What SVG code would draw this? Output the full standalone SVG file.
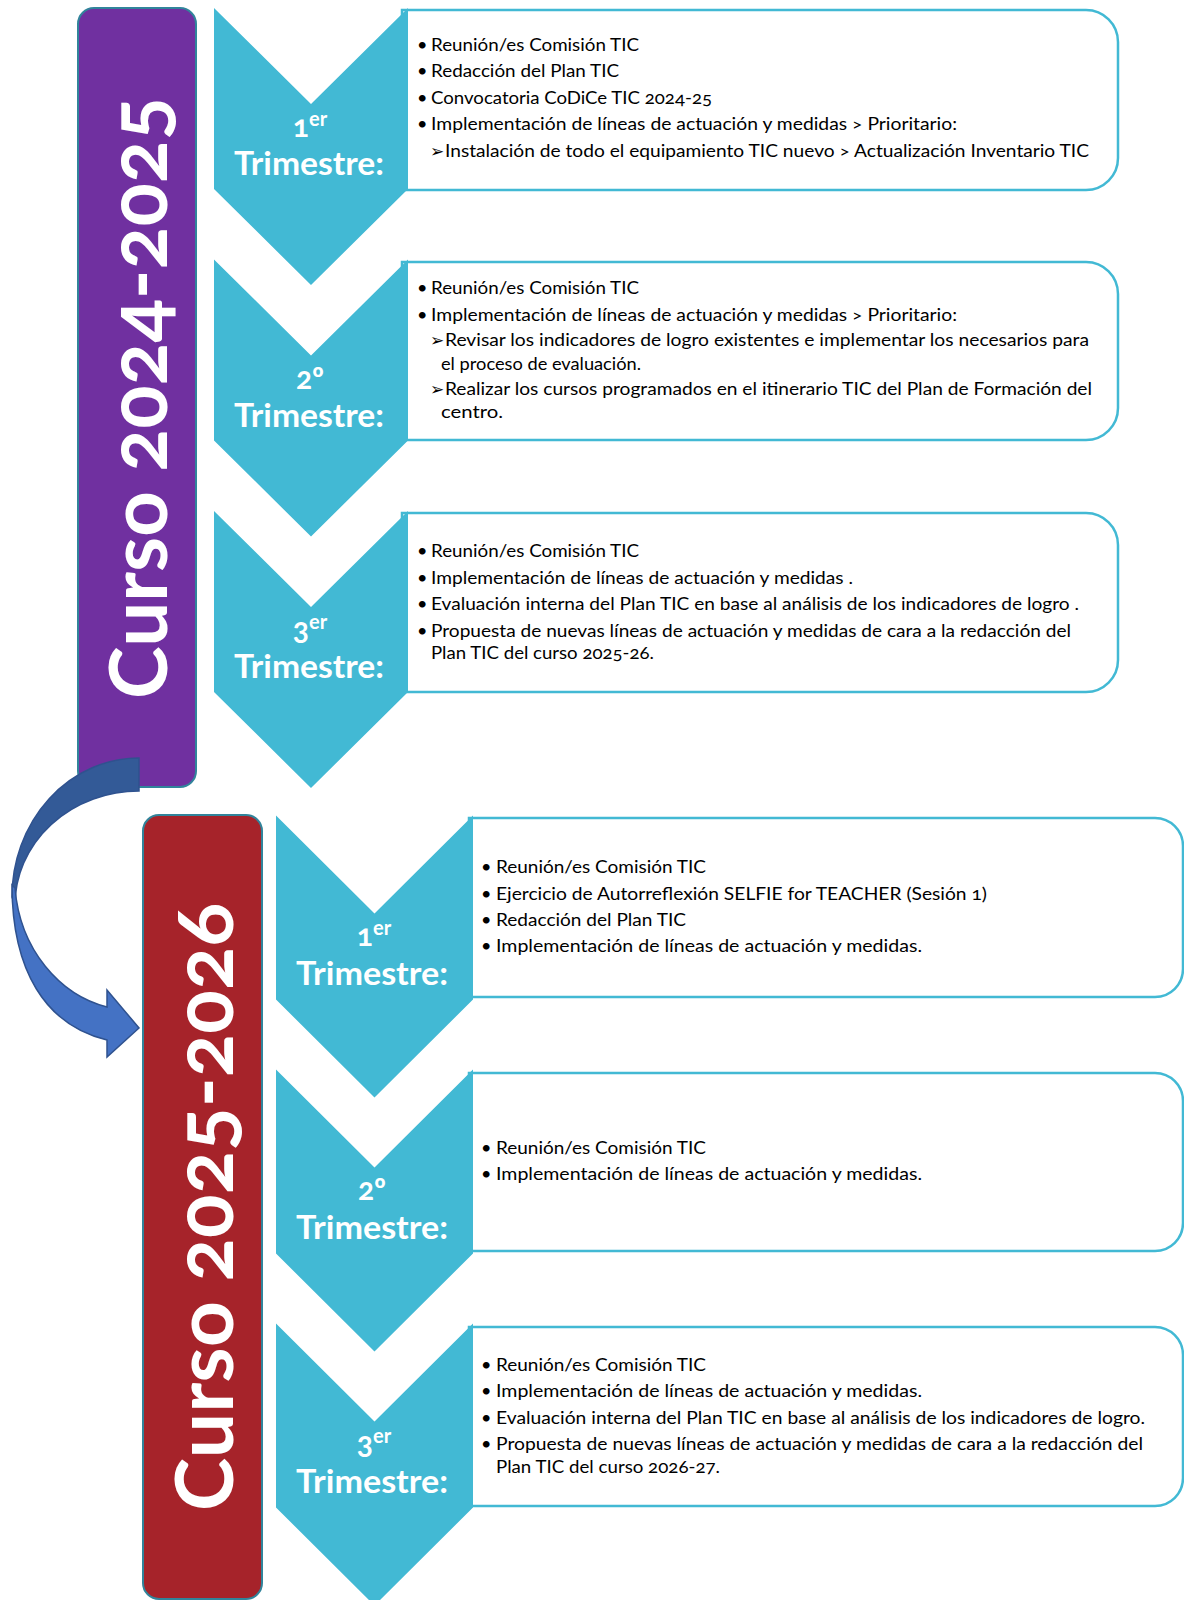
<svg xmlns="http://www.w3.org/2000/svg" width="1184" height="1600" viewBox="0 0 1184 1600">
<style>
.box{fill:#fff;stroke:#42B9D4;stroke-width:2.5}
.chev{fill:#42B9D4}
.t{font-family:Lato,"Liberation Sans",sans-serif;font-size:18px;fill:#000;font-variant-numeric:oldstyle-nums}
.b{font-family:Lato,"Liberation Sans",sans-serif;font-size:18px;fill:#000}
.ar{font-family:"DejaVu Sans",sans-serif;font-size:17px;fill:#000}
.lab{font-family:Lato,"Liberation Sans",sans-serif;font-weight:bold;font-size:33px;fill:#fff;text-anchor:middle;font-variant-numeric:oldstyle-nums}
.num{font-size:30px}
.sup{font-size:20px}
.title{font-family:Lato,"Liberation Sans",sans-serif;font-weight:bold;font-size:80px;fill:#fff;font-variant-numeric:oldstyle-nums}
.year{stroke:#31849B;stroke-width:2}
</style>
<g id="curso-2024-2025">
<rect class="year" x="78" y="8" width="118" height="779" rx="16" fill="#7030A0"/>
<text class="title" transform="translate(166.5,699) rotate(-90)" textLength="602" lengthAdjust="spacingAndGlyphs">Curso 2024-2025</text>
</g>
<g id="curso-2025-2026">
<rect class="year" x="143" y="815" width="119" height="784" rx="16" fill="#A6232A"/>
<text class="title" transform="translate(233,1511) rotate(-90)" textLength="608" lengthAdjust="spacingAndGlyphs">Curso 2025-2026</text>
</g>
<g id="connectors">
<path d="M139,758 A127,139 0 0 0 12,897 L15,905 A124,114 0 0 1 139,791 Z" fill="#335A97" stroke="#2F528F" stroke-width="1.5"/>
<path d="M12,885 C12,970 45,1025 107,1040 L107,1057 L139,1028 L107,990 L107,1007 C60,995 20,950 15,888 Z" fill="#4472C4" stroke="#2F528F" stroke-width="1.5"/>
</g>
<g id="t1-2024">
<path class="box" d="M402,10 H1086 A32,32 0 0 1 1118,42 V158 A32,32 0 0 1 1086,190 H402 Z"/>
<polygon class="chev" points="214,8 311,104 408,8 408,189 311,285 214,189"/>
<text class="lab" x="310" y="137"><tspan class="num">1</tspan><tspan class="sup" dy="-11">er</tspan></text>
<text class="lab" x="309" y="175" textLength="150" lengthAdjust="spacingAndGlyphs">Trimestre:</text>
<text class="b" x="417" y="50.5">•</text><text class="t" x="431" y="50.5" textLength="208" lengthAdjust="spacingAndGlyphs">Reunión/es Comisión TIC</text>
<text class="b" x="417" y="77">•</text><text class="t" x="431" y="77" textLength="188" lengthAdjust="spacingAndGlyphs">Redacción del Plan TIC</text>
<text class="b" x="417" y="103.5">•</text><text class="t" x="431" y="103.5" textLength="281" lengthAdjust="spacingAndGlyphs">Convocatoria CoDiCe TIC 2024-25</text>
<text class="b" x="417" y="130">•</text><text class="t" x="431" y="130" textLength="526" lengthAdjust="spacingAndGlyphs">Implementación de líneas de actuación y medidas &gt; Prioritario:</text>
<text class="ar" x="430" y="156.5">➢</text><text class="t" x="445" y="156.5" textLength="644" lengthAdjust="spacingAndGlyphs">Instalación de todo el equipamiento TIC nuevo &gt; Actualización Inventario TIC</text>
</g>
<g id="t2-2024">
<path class="box" d="M402,262 H1086 A32,32 0 0 1 1118,294 V408 A32,32 0 0 1 1086,440 H402 Z"/>
<polygon class="chev" points="214,259.5 311,355.5 408,259.5 408,440.5 311,536.5 214,440.5"/>
<text class="lab" x="310" y="388.5"><tspan class="num">2º</tspan></text>
<text class="lab" x="309" y="426.5" textLength="150" lengthAdjust="spacingAndGlyphs">Trimestre:</text>
<text class="b" x="417" y="294">•</text><text class="t" x="431" y="294" textLength="208" lengthAdjust="spacingAndGlyphs">Reunión/es Comisión TIC</text>
<text class="b" x="417" y="320.5">•</text><text class="t" x="431" y="320.5" textLength="526" lengthAdjust="spacingAndGlyphs">Implementación de líneas de actuación y medidas &gt; Prioritario:</text>
<text class="ar" x="430" y="346">➢</text><text class="t" x="445" y="346" textLength="644" lengthAdjust="spacingAndGlyphs">Revisar los indicadores de logro existentes e implementar los necesarios para</text>
<text class="t" x="441" y="369.5" textLength="200" lengthAdjust="spacingAndGlyphs">el proceso de evaluación.</text>
<text class="ar" x="430" y="395">➢</text><text class="t" x="445" y="395" textLength="647" lengthAdjust="spacingAndGlyphs">Realizar los cursos programados en el itinerario TIC del Plan de Formación del</text>
<text class="t" x="441" y="417.5" textLength="62" lengthAdjust="spacingAndGlyphs">centro.</text>
</g>
<g id="t3-2024">
<path class="box" d="M402,513 H1086 A32,32 0 0 1 1118,545 V660 A32,32 0 0 1 1086,692 H402 Z"/>
<polygon class="chev" points="214,511 311,607 408,511 408,692 311,788 214,692"/>
<text class="lab" x="310" y="640"><tspan class="num">3</tspan><tspan class="sup" dy="-11">er</tspan></text>
<text class="lab" x="309" y="678" textLength="150" lengthAdjust="spacingAndGlyphs">Trimestre:</text>
<text class="b" x="417" y="557">•</text><text class="t" x="431" y="557" textLength="208" lengthAdjust="spacingAndGlyphs">Reunión/es Comisión TIC</text>
<text class="b" x="417" y="584">•</text><text class="t" x="431" y="584" textLength="422" lengthAdjust="spacingAndGlyphs">Implementación de líneas de actuación y medidas .</text>
<text class="b" x="417" y="610">•</text><text class="t" x="431" y="610" textLength="648" lengthAdjust="spacingAndGlyphs">Evaluación interna del Plan TIC en base al análisis de los indicadores de logro .</text>
<text class="b" x="417" y="637">•</text><text class="t" x="431" y="637" textLength="640" lengthAdjust="spacingAndGlyphs">Propuesta de nuevas líneas de actuación y medidas de cara a la redacción del</text>
<text class="t" x="431" y="659" textLength="223" lengthAdjust="spacingAndGlyphs">Plan TIC del curso 2025-26.</text>
</g>
<g id="t1-2025">
<path class="box" d="M469,818 H1155 A28,28 0 0 1 1183,846 V969 A28,28 0 0 1 1155,997 H469 Z"/>
<polygon class="chev" points="276,815.5 374.5,913.5 473,815.5 473,999.5 374.5,1097.5 276,999.5"/>
<text class="lab" x="374" y="946"><tspan class="num">1</tspan><tspan class="sup" dy="-11">er</tspan></text>
<text class="lab" x="372" y="985" textLength="152" lengthAdjust="spacingAndGlyphs">Trimestre:</text>
<text class="b" x="481" y="873">•</text><text class="t" x="496" y="873" textLength="210" lengthAdjust="spacingAndGlyphs">Reunión/es Comisión TIC</text>
<text class="b" x="481" y="899.5">•</text><text class="t" x="496" y="899.5" textLength="491" lengthAdjust="spacingAndGlyphs">Ejercicio de Autorreflexión SELFIE for TEACHER (Sesión 1)</text>
<text class="b" x="481" y="926">•</text><text class="t" x="496" y="926" textLength="190" lengthAdjust="spacingAndGlyphs">Redacción del Plan TIC</text>
<text class="b" x="481" y="952">•</text><text class="t" x="496" y="952" textLength="426" lengthAdjust="spacingAndGlyphs">Implementación de líneas de actuación y medidas.</text>
</g>
<g id="t2-2025">
<path class="box" d="M469,1073 H1155 A28,28 0 0 1 1183,1101 V1223 A28,28 0 0 1 1155,1251 H469 Z"/>
<polygon class="chev" points="276,1069.5 374.5,1167.5 473,1069.5 473,1253.5 374.5,1351.5 276,1253.5"/>
<text class="lab" x="372" y="1200"><tspan class="num">2º</tspan></text>
<text class="lab" x="372" y="1239" textLength="152" lengthAdjust="spacingAndGlyphs">Trimestre:</text>
<text class="b" x="481" y="1154">•</text><text class="t" x="496" y="1154" textLength="210" lengthAdjust="spacingAndGlyphs">Reunión/es Comisión TIC</text>
<text class="b" x="481" y="1180">•</text><text class="t" x="496" y="1180" textLength="426" lengthAdjust="spacingAndGlyphs">Implementación de líneas de actuación y medidas.</text>
</g>
<g id="t3-2025">
<path class="box" d="M469,1327 H1155 A28,28 0 0 1 1183,1355 V1478 A28,28 0 0 1 1155,1506 H469 Z"/>
<polygon class="chev" points="276,1323.5 374.5,1421.5 473,1323.5 473,1507.5 374.5,1605.5 276,1507.5"/>
<text class="lab" x="374" y="1454"><tspan class="num">3</tspan><tspan class="sup" dy="-11">er</tspan></text>
<text class="lab" x="372" y="1493" textLength="152" lengthAdjust="spacingAndGlyphs">Trimestre:</text>
<text class="b" x="481" y="1371">•</text><text class="t" x="496" y="1371" textLength="210" lengthAdjust="spacingAndGlyphs">Reunión/es Comisión TIC</text>
<text class="b" x="481" y="1397">•</text><text class="t" x="496" y="1397" textLength="426" lengthAdjust="spacingAndGlyphs">Implementación de líneas de actuación y medidas.</text>
<text class="b" x="481" y="1423.5">•</text><text class="t" x="496" y="1423.5" textLength="649" lengthAdjust="spacingAndGlyphs">Evaluación interna del Plan TIC en base al análisis de los indicadores de logro.</text>
<text class="b" x="481" y="1450">•</text><text class="t" x="496" y="1450" textLength="647" lengthAdjust="spacingAndGlyphs">Propuesta de nuevas líneas de actuación y medidas de cara a la redacción del</text>
<text class="t" x="496" y="1473" textLength="224" lengthAdjust="spacingAndGlyphs">Plan TIC del curso 2026-27.</text>
</g>
</svg>
